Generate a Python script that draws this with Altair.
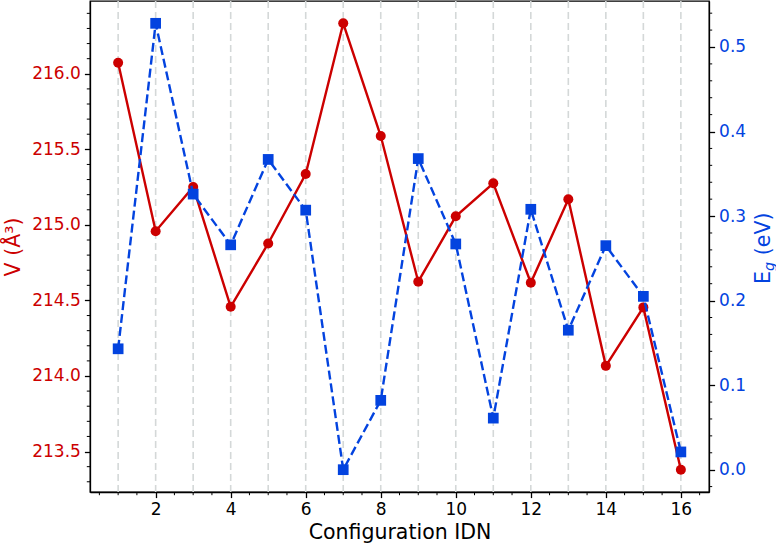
import altair as alt
import pandas as pd

# Configuration index, cell volume (Å^3) and band gap (eV)
config_idn = list(range(1, 17))
volume = [216.073, 214.958, 215.251, 214.458, 214.877, 215.337, 216.334, 215.588,
          214.624, 215.057, 215.275, 214.617, 215.170, 214.067, 214.454, 213.380]
band_gap = [0.143, 0.528, 0.326, 0.266, 0.367, 0.307, 0.000, 0.082,
            0.368, 0.267, 0.061, 0.308, 0.165, 0.265, 0.205, 0.021]

# Axis tick positions
x_ticks = [2, 4, 6, 8, 10, 12, 14, 16]
v_ticks = [213.5, 214.0, 214.5, 215.0, 215.5, 216.0]
eg_ticks = [0.0, 0.1, 0.2, 0.3, 0.4, 0.5]

RED = "#cc0000"
BLUE = "#0343df"
FONT = "DejaVu Sans"
W, H = 619, 491
TICK_FS = 17
TITLE_FS = 20.5


def padded(vals, frac=0.05):
    lo, hi = min(vals), max(vals)
    m = (hi - lo) * frac
    return [lo - m, hi + m]


x_dom = [0.25, 16.75]
v_dom = padded(volume)
eg_dom = padded(band_gap)


def inside(vals, dom):
    return [v for v in vals if dom[0] <= v <= dom[1]]


x_minor = inside([k / 2 for k in range(0, 35) if k % 4 != 0], x_dom)
v_minor = inside([round(213.0 + k / 10, 1) for k in range(0, 40) if k % 5 != 0], v_dom)
eg_minor = inside([round(-0.1 + k * 0.02, 2) for k in range(0, 40) if k % 5 != 0], eg_dom)

x_scale = alt.Scale(domain=x_dom, nice=False, zero=False)
v_scale = alt.Scale(domain=v_dom, nice=False, zero=False)
eg_scale = alt.Scale(domain=eg_dom, nice=False, zero=False)

x_axis = alt.Axis(values=x_ticks, format="d", title="Configuration IDN",
                  labelFontSize=TICK_FS, titleFontSize=TITLE_FS,
                  titleFontWeight="normal", labelColor="black", titleColor="black",
                  tickSize=5.6, labelPadding=4, titlePadding=5, grid=False)

df = pd.DataFrame({"idn": config_idn, "V": volume, "Eg": band_gap})


def X(field):
    return alt.X(field, scale=x_scale, axis=x_axis)


# dashed vertical guides at every configuration
grid = alt.Chart(pd.DataFrame({"idn": config_idn})).mark_rule(
    color="#d4d8d8", strokeWidth=1.6, strokeDash=[7, 4]
).encode(x=X("idn:Q"))

# minor tick marks
x_minor_ticks = alt.Chart(pd.DataFrame({"m": x_minor})).mark_rule(
    color="black", strokeWidth=1
).encode(x=X("m:Q"), y=alt.value(H), y2=alt.value(H + 3.2))

v_minor_ticks = alt.Chart(pd.DataFrame({"m": v_minor})).mark_rule(
    color="black", strokeWidth=1
).encode(x=alt.value(-3.2), x2=alt.value(0),
         y=alt.Y("m:Q", scale=v_scale, axis=None))

eg_minor_ticks = alt.Chart(pd.DataFrame({"m": eg_minor})).mark_rule(
    color="black", strokeWidth=1
).encode(x=alt.value(W), x2=alt.value(W + 3.2),
         y=alt.Y("m:Q", scale=eg_scale, axis=None))

volume_line = alt.Chart(df).mark_line(
    color=RED, strokeWidth=2.4,
    point=alt.OverlayMarkDef(filled=True, color=RED, size=100, opacity=1),
).encode(
    x=X("idn:Q"),
    y=alt.Y("V:Q", scale=v_scale,
            axis=alt.Axis(orient="left", values=v_ticks, format=".1f",
                          title="V (Å³)", labelColor=RED, titleColor=RED,
                          labelFontSize=TICK_FS, titleFontSize=TITLE_FS,
                          titleFontWeight="normal", tickSize=5.6,
                          labelPadding=4, titlePadding=8, grid=False)),
)

gap_line = alt.Chart(df).mark_line(
    color=BLUE, strokeWidth=2.4, strokeDash=[9, 4],
    point=alt.OverlayMarkDef(shape="square", filled=True, color=BLUE, size=115,
                             opacity=1),
).encode(
    x=X("idn:Q"),
    y=alt.Y("Eg:Q", scale=eg_scale,
            axis=alt.Axis(orient="right", values=eg_ticks, format=".1f",
                          title=None, labelColor=BLUE,
                          labelFontSize=TICK_FS, tickSize=5.6,
                          labelPadding=4, grid=False)),
)

# right-hand axis title: E with subscript g, then the unit
one = pd.DataFrame({"k": [0]})
title_base_x = W + 61
title_start_y = 283


def title_part(text, dx, dy, size, style="normal"):
    return alt.Chart(one).mark_text(
        angle=270, align="left", baseline="alphabetic", font=FONT,
        fontSize=size, fontStyle=style, color=BLUE,
    ).encode(x=alt.value(title_base_x + dx), y=alt.value(title_start_y - dy),
             text=alt.value(text))


eg_title = (
    title_part("E", 0, 0, TITLE_FS)
    + title_part("g", 4, 13.0, 14.3, "italic")
    + title_part("(eV)", 0, 28.8, TITLE_FS)
)

chart = alt.layer(
    grid, x_minor_ticks, v_minor_ticks, eg_minor_ticks,
    volume_line, gap_line, eg_title,
).resolve_scale(y="independent").properties(
    width=W, height=H,
    autosize=alt.AutoSizeParams(type="none"),
    padding={"left": 90, "top": 1, "right": 776 - 90 - W, "bottom": 546 - 1 - H},
    background="white",
).configure(font=FONT).configure_view(
    stroke="black", strokeWidth=1.3
).configure_axis(
    domainColor="black", domainWidth=1.3, tickColor="black", tickWidth=1.3,
    labelFont=FONT, titleFont=FONT,
)

chart.save("out.html", embed_options={"renderer": "svg", "actions": False})
